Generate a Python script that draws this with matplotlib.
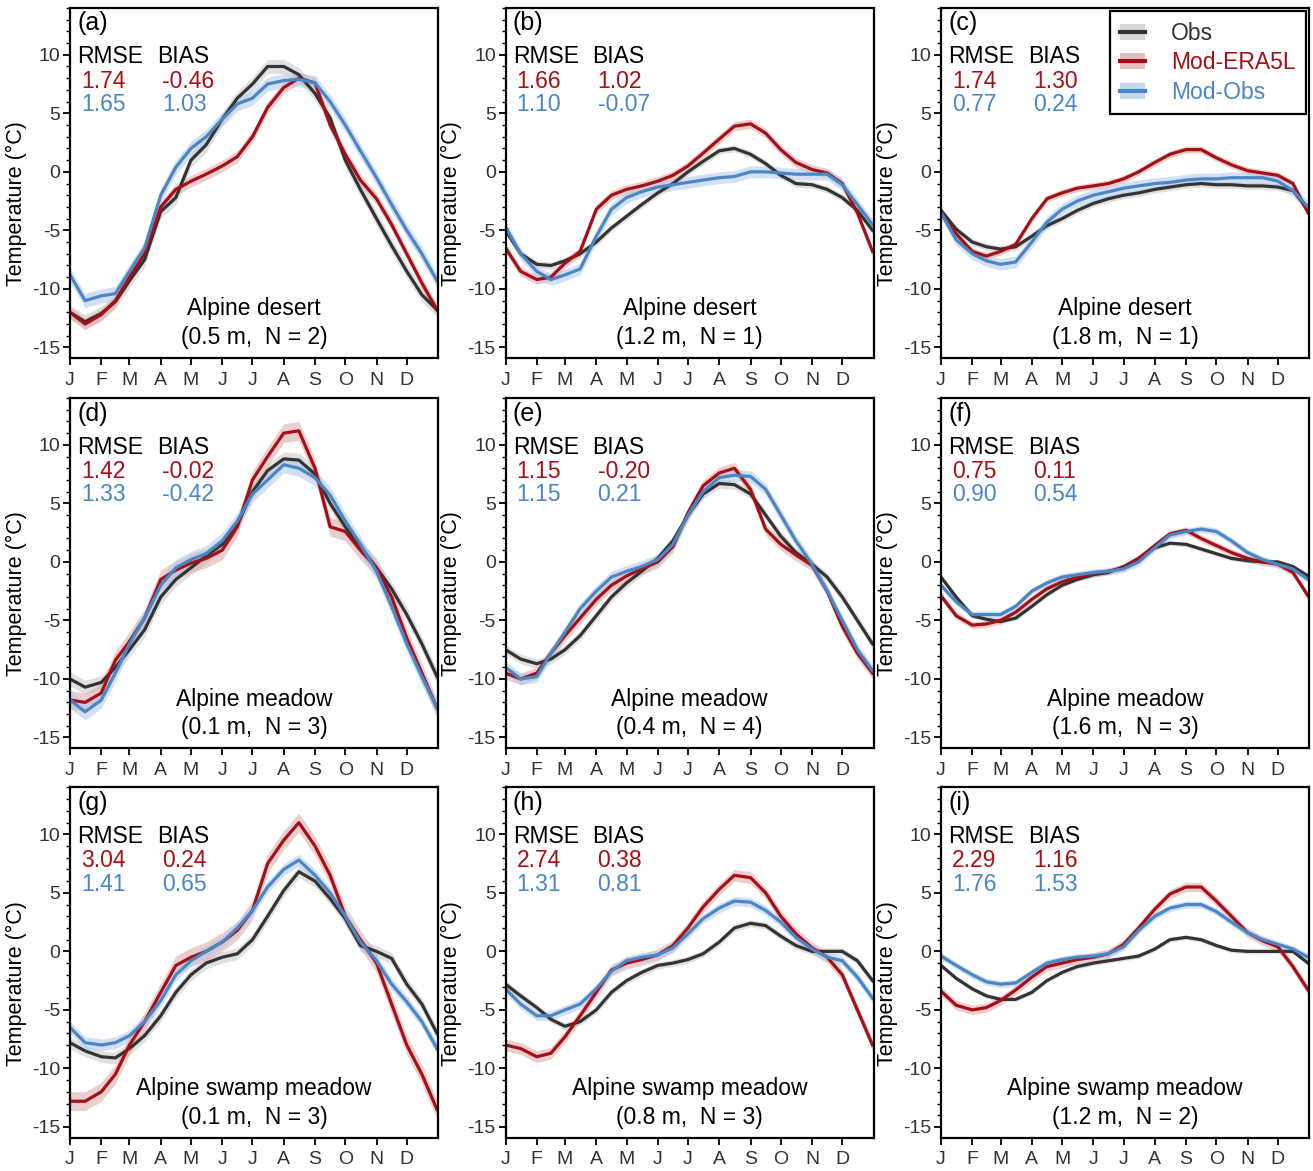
import matplotlib
matplotlib.use("Agg")
import matplotlib.pyplot as plt
from matplotlib.patches import Patch
from matplotlib.lines import Line2D
from matplotlib.legend_handler import HandlerTuple
from matplotlib.ticker import MultipleLocator

plt.rcParams["font.family"] = ["Liberation Sans", "DejaVu Sans"]
plt.rcParams["axes.unicode_minus"] = False

# day of year of each sample (month starts and mid-months)
doy = [1, 16, 32, 46, 60, 75, 91, 106, 121, 136, 152, 167, 182, 197,
       213, 228, 244, 259, 274, 289, 305, 320, 335, 350, 365]

month_start = [1, 32, 60, 91, 121, 152, 182, 213, 244, 274, 305, 335]
month_labels = ["J", "F", "M", "A", "M", "J", "J", "A", "S", "O", "N", "D"]

panel_tags = ["(a)", "(b)", "(c)", "(d)", "(e)", "(f)", "(g)", "(h)", "(i)"]
site_names = ["Alpine desert"] * 3 + ["Alpine meadow"] * 3 + ["Alpine swamp meadow"] * 3
site_info = ["(0.5 m,  N = 2)", "(1.2 m,  N = 1)", "(1.8 m,  N = 1)",
             "(0.1 m,  N = 3)", "(0.4 m,  N = 4)", "(1.6 m,  N = 3)",
             "(0.1 m,  N = 3)", "(0.8 m,  N = 3)", "(1.2 m,  N = 2)"]

rmse_era = ["1.74", "1.66", "1.74", "1.42", "1.15", "0.75", "3.04", "2.74", "2.29"]
bias_era = ["-0.46", "1.02", "1.30", "-0.02", "-0.20", "0.11", "0.24", "0.38", "1.16"]
rmse_obs = ["1.65", "1.10", "0.77", "1.33", "1.15", "0.90", "1.41", "1.31", "1.76"]
bias_obs = ["1.03", "-0.07", "0.24", "-0.42", "0.21", "0.54", "0.65", "0.81", "1.53"]

obs_a = [-12.0, -12.8, -12.1, -11.1, -9.3, -7.5, -3.4, -2.2, 1.0, 2.3, 4.5, 6.3, 7.5,
         9.0, 9.0, 8.3, 6.7, 4.6, 1.0, -1.5, -4.0, -6.3, -8.5, -10.5, -11.8]
era_a = [-12.0, -13.0, -12.2, -11.0, -9.0, -7.0, -3.0, -1.5, -0.8, -0.2, 0.5, 1.3, 3.0,
         5.5, 7.2, 8.0, 7.6, 4.0, 1.5, -0.7, -2.3, -4.5, -7.0, -9.5, -11.8]
mod_a = [-8.8, -11.0, -10.6, -10.4, -8.5, -6.5, -2.0, 0.4, 2.0, 3.0, 4.5, 5.8, 6.3,
         7.5, 7.8, 7.9, 7.6, 6.0, 4.0, 1.8, -0.5, -2.8, -5.0, -7.0, -9.3]

obs_b = [-5.0, -7.0, -7.9, -8.0, -7.6, -7.0, -6.0, -4.8, -3.8, -2.8, -1.8, -1.0, 0.0,
         0.9, 1.8, 2.0, 1.5, 0.7, -0.3, -1.0, -1.1, -1.5, -2.2, -3.3, -5.0]
era_b = [-6.5, -8.5, -9.2, -9.0, -7.8, -6.8, -3.2, -2.0, -1.5, -1.2, -0.8, -0.3, 0.5,
         1.6, 2.8, 3.9, 4.1, 3.3, 1.9, 0.8, 0.2, -0.1, -1.0, -3.5, -6.8]
mod_b = [-4.7, -7.0, -8.5, -9.2, -8.8, -8.3, -5.5, -3.2, -2.2, -1.7, -1.3, -1.1, -0.9,
         -0.7, -0.5, -0.4, 0.0, 0.0, -0.1, -0.2, -0.2, -0.2, -1.1, -2.8, -4.5]

obs_c = [-3.3, -4.9, -6.0, -6.4, -6.6, -6.4, -5.5, -4.6, -4.0, -3.3, -2.7, -2.3, -2.0,
         -1.8, -1.5, -1.3, -1.1, -1.0, -1.1, -1.1, -1.2, -1.2, -1.3, -1.6, -3.2]
era_c = [-3.5, -5.3, -6.8, -7.2, -6.8, -6.2, -4.0, -2.3, -1.8, -1.4, -1.2, -1.0, -0.6,
         0.0, 0.8, 1.5, 1.9, 1.9, 1.2, 0.6, 0.1, -0.1, -0.3, -1.0, -3.5]
mod_c = [-3.5, -5.8, -7.0, -7.6, -7.9, -7.7, -6.0, -4.3, -3.2, -2.5, -2.0, -1.7, -1.4,
         -1.2, -1.0, -0.9, -0.7, -0.6, -0.6, -0.5, -0.5, -0.5, -0.8, -1.6, -3.0]

obs_d = [-10.0, -10.7, -10.3, -9.0, -7.5, -5.8, -3.0, -1.5, -0.5, 0.5, 1.5, 3.2, 6.0,
         7.8, 8.8, 8.7, 7.5, 5.0, 3.0, 1.3, -0.5, -2.3, -4.5, -7.0, -9.8]
era_d = [-11.8, -12.0, -11.2, -8.4, -6.8, -4.8, -1.5, -0.7, -0.1, 0.3, 1.0, 3.0, 7.0,
         9.0, 11.0, 11.2, 8.0, 3.0, 2.6, 1.0, -0.5, -3.0, -6.5, -9.5, -12.5]
mod_d = [-11.8, -12.8, -11.8, -9.5, -7.0, -4.8, -2.0, -0.5, 0.2, 0.7, 1.8, 3.5, 5.8,
         7.0, 8.3, 8.0, 7.2, 5.7, 3.5, 1.5, -0.8, -3.8, -7.0, -9.8, -12.5]

obs_e = [-7.5, -8.3, -8.7, -8.3, -7.5, -6.3, -4.6, -3.0, -1.8, -0.8, 0.3, 1.8, 4.0,
         5.8, 6.7, 6.6, 5.8, 4.0, 2.2, 0.8, -0.2, -1.3, -3.0, -5.0, -7.0]
era_e = [-9.5, -10.0, -9.5, -7.8, -6.3, -4.8, -3.2, -2.0, -1.2, -0.6, 0.0, 1.3, 4.2,
         6.5, 7.6, 8.0, 6.2, 2.8, 1.5, 0.6, -0.3, -2.5, -5.5, -7.8, -9.5]
mod_e = [-9.0, -10.0, -9.8, -7.8, -6.0, -4.0, -2.5, -1.3, -0.8, -0.4, 0.2, 1.5, 4.0,
         6.0, 7.2, 7.4, 7.3, 6.2, 4.0, 1.8, -0.2, -2.5, -5.0, -7.5, -9.3]

obs_f = [-1.3, -3.0, -4.6, -4.9, -5.1, -4.8, -3.8, -2.8, -2.0, -1.5, -1.1, -0.9, -0.4,
         0.3, 1.2, 1.6, 1.5, 1.1, 0.7, 0.3, 0.1, 0.0, 0.0, -0.4, -1.2]
era_f = [-2.9, -4.6, -5.4, -5.3, -5.0, -4.3, -3.2, -2.3, -1.7, -1.3, -1.0, -0.8, -0.5,
         0.3, 1.4, 2.4, 2.7, 2.0, 1.4, 0.8, 0.3, 0.0, -0.2, -0.9, -2.9]
mod_f = [-2.0, -3.4, -4.5, -4.5, -4.5, -3.8, -2.5, -1.8, -1.3, -1.1, -0.9, -0.8, -0.6,
         0.0, 1.2, 2.3, 2.6, 2.8, 2.6, 1.8, 0.8, 0.2, -0.2, -0.6, -1.5]

obs_g = [-7.8, -8.5, -9.0, -9.1, -8.3, -7.2, -5.5, -3.5, -2.0, -1.0, -0.5, -0.2, 1.0,
         3.0, 5.2, 6.8, 6.0, 4.5, 2.8, 0.5, 0.0, -0.6, -2.8, -4.5, -7.0]
era_g = [-12.8, -12.8, -12.0, -10.5, -8.0, -6.0, -3.5, -1.2, -0.5, 0.0, 0.8, 1.8, 3.5,
         7.5, 9.5, 11.0, 9.0, 6.5, 3.0, 1.0, -1.0, -4.5, -8.0, -10.5, -13.5]
mod_g = [-6.5, -7.8, -8.0, -7.8, -7.2, -6.0, -4.2, -2.0, -0.8, 0.0, 0.8, 2.0, 3.5,
         5.5, 7.0, 7.8, 6.5, 5.0, 3.0, 0.8, -0.8, -2.8, -4.3, -6.0, -8.3]

obs_h = [-2.8, -3.8, -4.8, -5.8, -6.4, -6.0, -5.0, -3.5, -2.5, -1.8, -1.2, -1.0, -0.7,
         -0.2, 0.8, 2.0, 2.4, 2.2, 1.3, 0.5, 0.0, 0.0, 0.0, -0.8, -2.5]
era_h = [-8.0, -8.3, -9.0, -8.7, -7.3, -5.5, -3.5, -1.6, -1.0, -0.7, -0.3, 0.5, 2.0,
         3.8, 5.3, 6.5, 6.3, 5.0, 3.0, 1.5, 0.3, -0.5, -2.0, -5.0, -8.0]
mod_h = [-3.2, -4.5, -5.5, -5.5, -5.0, -4.5, -3.2, -1.7, -0.8, -0.5, -0.3, 0.3, 1.5,
         2.8, 3.7, 4.3, 4.2, 3.5, 2.5, 1.2, 0.2, -0.5, -0.8, -2.2, -4.0]

obs_i = [-1.2, -2.3, -3.2, -3.8, -4.1, -4.1, -3.5, -2.5, -1.8, -1.3, -1.0, -0.8, -0.6,
         -0.4, 0.2, 1.0, 1.2, 1.0, 0.5, 0.1, 0.0, 0.0, 0.0, 0.0, -1.0]
era_i = [-3.4, -4.6, -5.0, -4.8, -4.2, -3.3, -2.2, -1.3, -1.0, -0.7, -0.5, -0.2, 0.6,
         2.0, 3.6, 4.9, 5.5, 5.5, 4.3, 3.0, 1.6, 0.9, 0.4, -1.3, -3.3]
mod_i = [-0.4, -1.2, -2.0, -2.6, -2.8, -2.7, -1.8, -1.0, -0.7, -0.5, -0.4, -0.2, 0.4,
         1.8, 3.0, 3.7, 4.0, 4.0, 3.4, 2.5, 1.6, 1.0, 0.6, 0.2, -0.5]

# half-width of the shaded spread (Obs, Mod-ERA5L, Mod-Obs) per panel
spread = [[0.6, 0.5, 0.6], [0.3, 0.4, 0.5], [0.3, 0.3, 0.5],
          [0.6, 0.8, 0.7], [0.4, 0.5, 0.5], [0.2, 0.3, 0.3],
          [0.5, 0.8, 0.5], [0.3, 0.5, 0.4], [0.2, 0.4, 0.3]]

obs_all = [obs_a, obs_b, obs_c, obs_d, obs_e, obs_f, obs_g, obs_h, obs_i]
era_all = [era_a, era_b, era_c, era_d, era_e, era_f, era_g, era_h, era_i]
mod_all = [mod_a, mod_b, mod_c, mod_d, mod_e, mod_f, mod_g, mod_h, mod_i]

c_obs, c_era, c_mod = "#333333", "#a50f15", "#4a86c5"
b_obs, b_era, b_mod = "#c8c8c8", "#dba4a6", "#adc8e8"

fig = plt.figure(figsize=(13.13, 11.71), dpi=100)
lefts = [0.0533, 0.385, 0.7167]
bottoms = [0.6943, 0.3612, 0.0286]
w, h = 0.2803, 0.2989
fs = 16.5

for k in range(9):
    ax = fig.add_axes([lefts[k % 3], bottoms[k // 3], w, h])
    series = [(obs_all[k], c_obs, b_obs, spread[k][0]),
              (era_all[k], c_era, b_era, spread[k][1]),
              (mod_all[k], c_mod, b_mod, spread[k][2])]
    for y, col, bcol, s in series:
        lo = [v - s for v in y]
        hi = [v + s for v in y]
        ax.fill_between(doy, lo, hi, color=bcol, alpha=0.55, lw=0)
    for y, col, bcol, s in series:
        ax.plot(doy, y, color=col, lw=2.3)

    ax.set_xlim(1, 366)
    ax.set_ylim(-15.9, 14)
    ax.set_xticks(month_start)
    ax.set_xticklabels(month_labels)
    ax.set_yticks([-15, -10, -5, 0, 5, 10])
    ax.yaxis.set_minor_locator(MultipleLocator(1))
    ax.tick_params(axis="both", labelsize=14, labelcolor="#333333", width=1.3, length=5,
                   direction="out")
    ax.tick_params(axis="y", which="minor", length=3, width=1.0)
    ax.tick_params(axis="x", pad=5)
    ax.tick_params(axis="y", pad=2)
    for sp in ax.spines.values():
        sp.set_linewidth(1.6)
    ax.set_ylabel("Temperature (°C)", fontsize=15.5)
    ax.yaxis.set_label_coords(-0.117, 0.44)

    ax.text(0.02, 0.99, panel_tags[k], transform=ax.transAxes, fontsize=18, va="top")
    ax.text(0.02, 0.86, "RMSE", transform=ax.transAxes, fontsize=fs, va="center")
    ax.text(0.236, 0.86, "BIAS", transform=ax.transAxes, fontsize=fs, va="center")
    ax.text(0.03, 0.79, rmse_era[k], transform=ax.transAxes, fontsize=fs, va="center", color=c_era)
    ax.text(0.25, 0.79, bias_era[k], transform=ax.transAxes, fontsize=fs, va="center", color=c_era)
    ax.text(0.03, 0.723, rmse_obs[k], transform=ax.transAxes, fontsize=fs, va="center", color=c_mod)
    ax.text(0.25, 0.723, bias_obs[k], transform=ax.transAxes, fontsize=fs, va="center", color=c_mod)
    ax.text(0.5, 0.14, site_names[k], transform=ax.transAxes, fontsize=fs, ha="center", va="center")
    ax.text(0.5, 0.058, site_info[k], transform=ax.transAxes, fontsize=fs, ha="center", va="center")

    if k == 2:
        handles = [(Patch(facecolor=b, alpha=0.7, lw=0), Line2D([], [], color=c, lw=3))
                   for c, b in [(c_obs, b_obs), (c_era, b_era), (c_mod, b_mod)]]
        leg = ax.legend(handles, ["Obs", "Mod-ERA5L", "Mod-Obs"],
                        handler_map={tuple: HandlerTuple(ndivide=1)},
                        loc="upper right", fontsize=fs, frameon=True, fancybox=False,
                        edgecolor="black", framealpha=1, borderaxespad=0.15,
                        handlelength=1.1, handletextpad=1.1, labelspacing=0.28,
                        borderpad=0.45)
        leg.get_frame().set_linewidth(1.6)
        for t, c in zip(leg.get_texts(), [c_obs, c_era, c_mod]):
            t.set_color(c)

fig.savefig("out.png", dpi=100)
